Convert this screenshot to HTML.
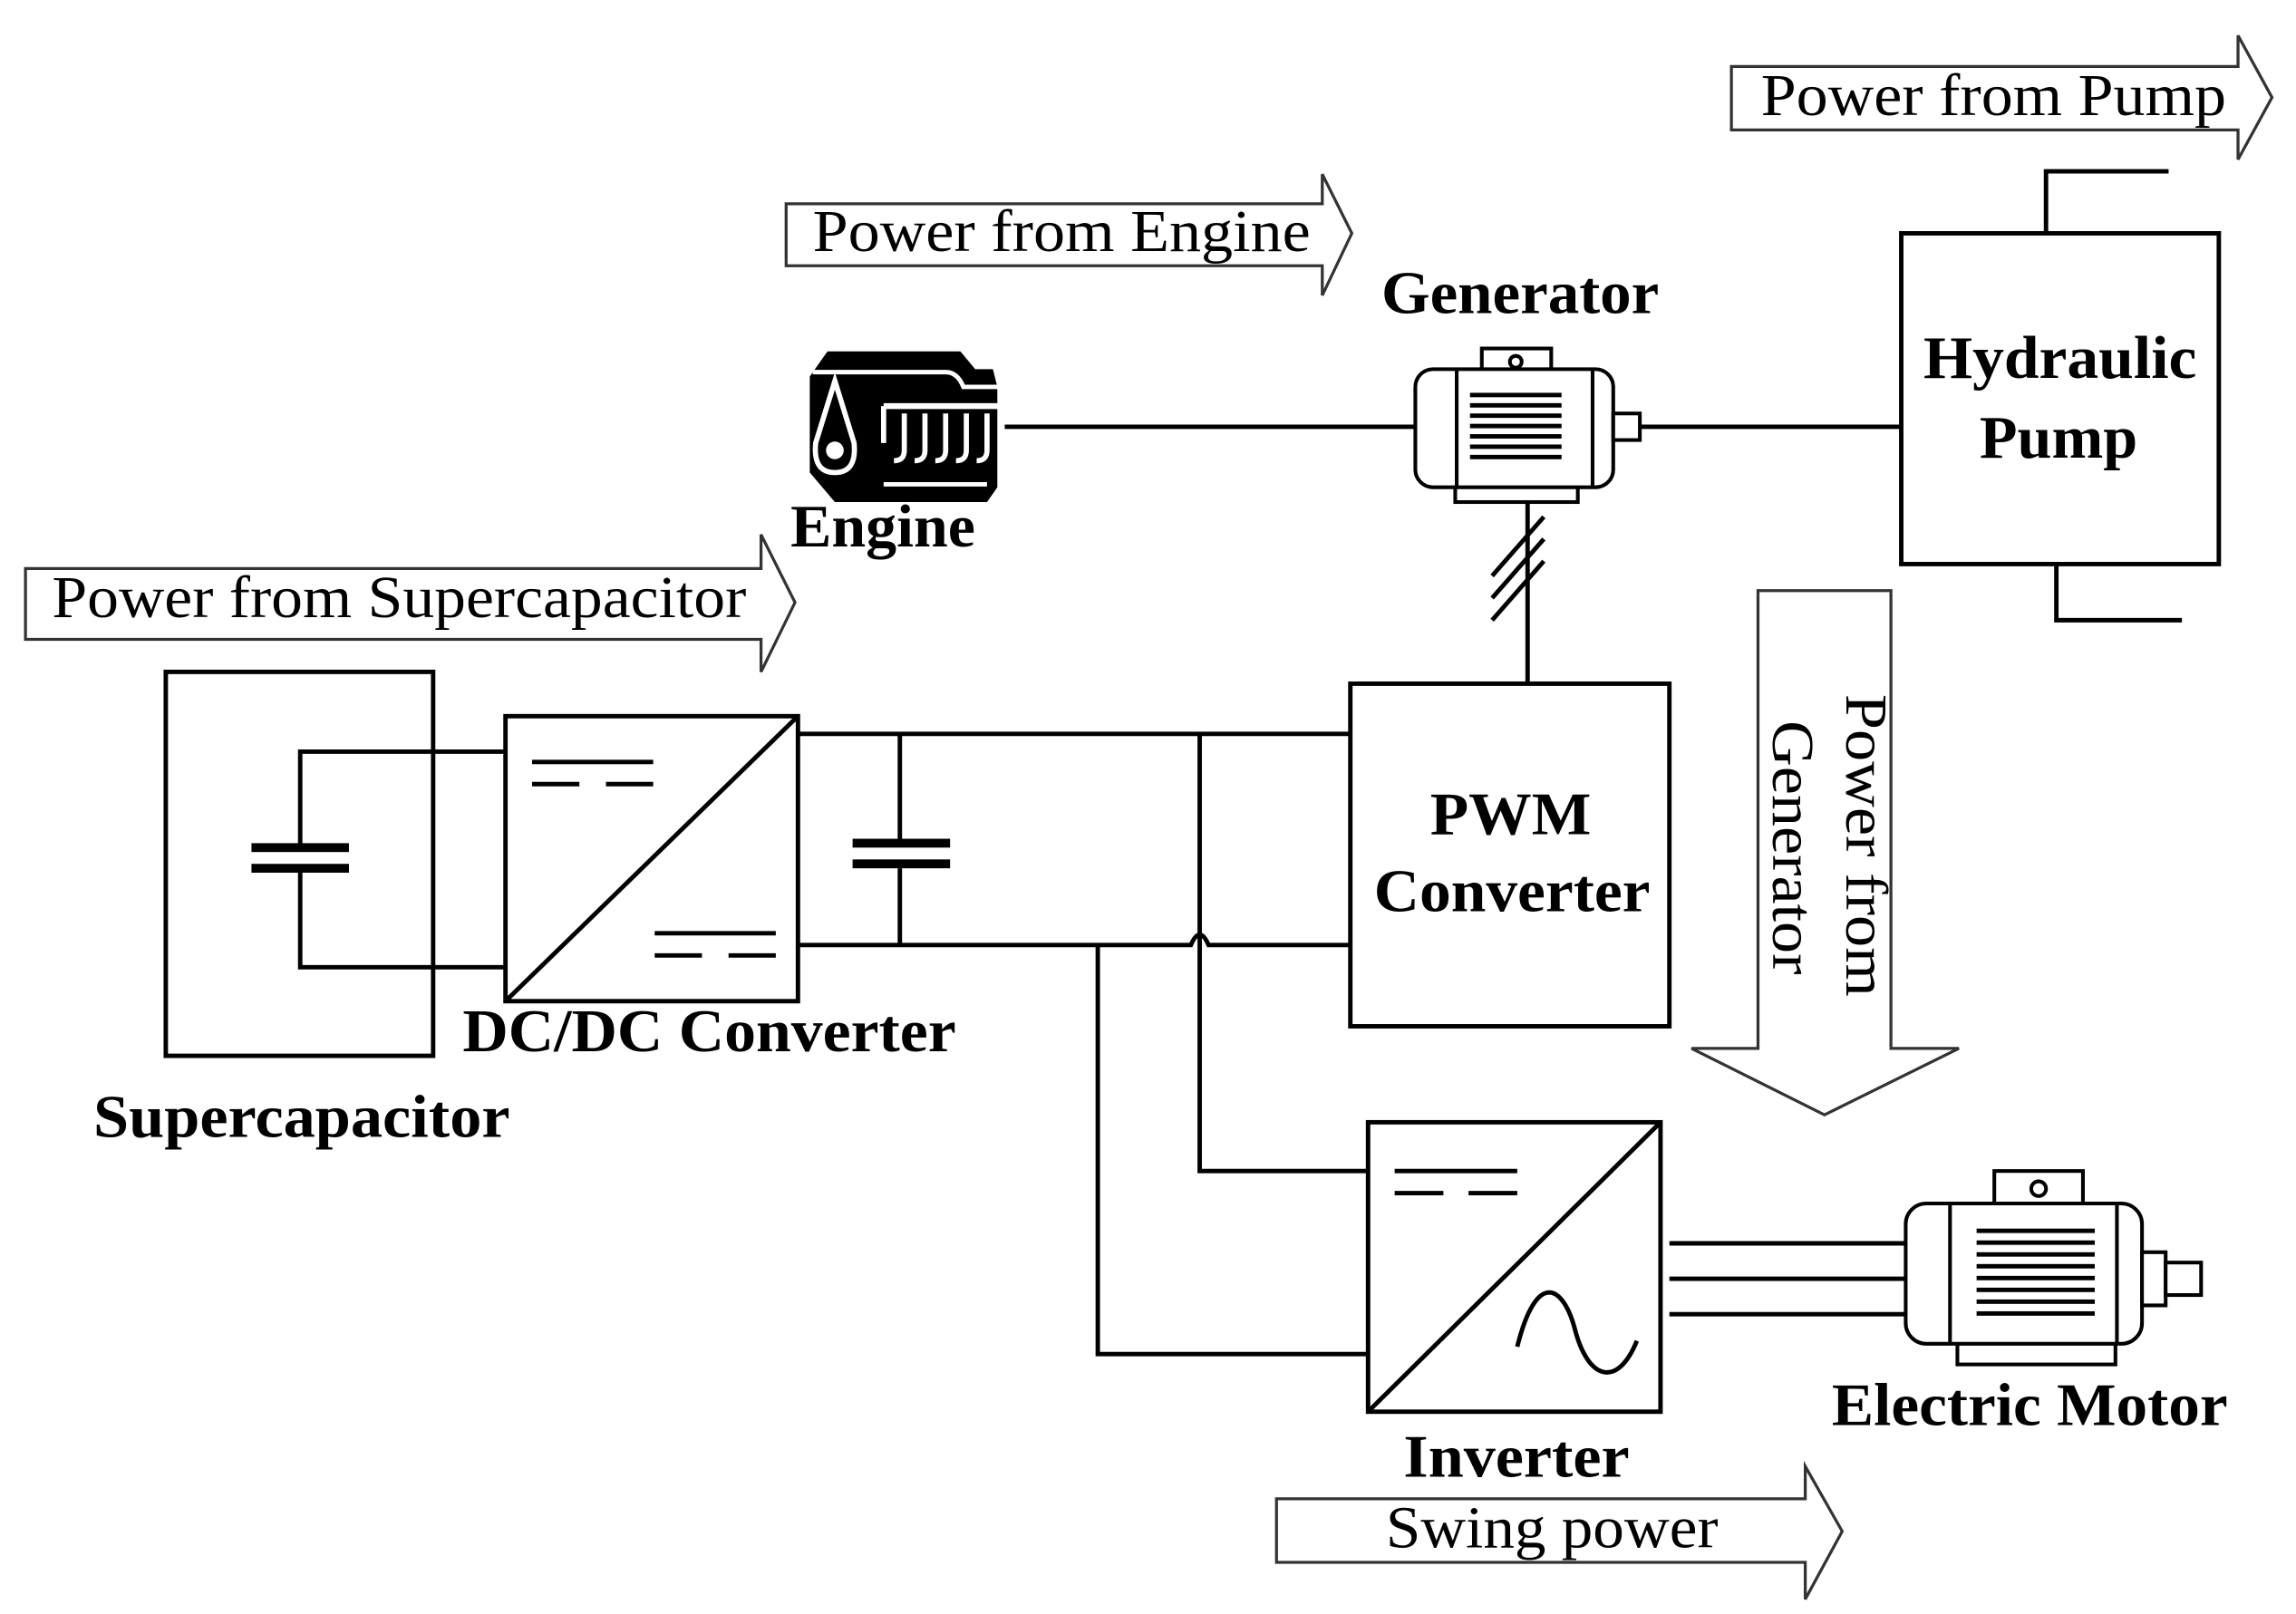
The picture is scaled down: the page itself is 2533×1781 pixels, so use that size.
<!DOCTYPE html>
<html><head><meta charset="utf-8"><style>
html,body{margin:0;padding:0;background:#fff;}
svg{display:block;}
text{font-family:"Liberation Serif",serif;fill:#000;}
.b{font-weight:bold;font-size:41px;}
.n{font-size:40px;}
</style></head><body>
<svg width="2533" height="1781" viewBox="0 0 1554 1093" xmlns="http://www.w3.org/2000/svg">
<g fill="#fff" stroke="#333" stroke-width="2">
<polygon points="1172,45 1515,45 1515,24 1538,66 1515,108 1515,88 1172,88"/>
<polygon points="532,138 895,138 895,118 915,158 895,200 895,180 532,180"/>
<polygon points="17,385 515,385 515,362 538,408 515,455 515,433 17,433"/>
<polygon points="864,1015 1222,1015 1222,993 1247,1037 1222,1083 1222,1058 864,1058"/>
<polygon points="1190,400 1280,400 1280,710 1326,710 1235,755 1145,710 1190,710"/>
</g>
<text class="n" x="1192" y="78" textLength="315" lengthAdjust="spacingAndGlyphs">Power from Pump</text>
<text class="n" x="550" y="170" textLength="337" lengthAdjust="spacingAndGlyphs">Power from Engine</text>
<text class="n" x="35" y="418" textLength="470" lengthAdjust="spacingAndGlyphs">Power from Supercapacitor</text>
<text class="n" x="938" y="1048" textLength="225" lengthAdjust="spacingAndGlyphs">Swing power</text>
<text class="n" transform="translate(1250,470) rotate(90)" textLength="205" lengthAdjust="spacingAndGlyphs">Power from</text>
<text class="n" transform="translate(1200,488) rotate(90)" textLength="172" lengthAdjust="spacingAndGlyphs">Generator</text>

<g stroke="#000" stroke-width="3" fill="none">
<line x1="680" y1="289" x2="958" y2="289"/>
<line x1="1110" y1="289" x2="1287" y2="289"/>
<rect x="1287" y="158" width="215" height="224"/>
<polyline points="1385,158 1385,116 1468,116"/>
<polyline points="1392,382 1392,420 1477,420"/>
<line x1="1034" y1="340" x2="1034" y2="463"/>
<line x1="1010" y1="390" x2="1045" y2="350"/>
<line x1="1010" y1="405" x2="1045" y2="365"/>
<line x1="1010" y1="420" x2="1045" y2="380"/>
<rect x="914" y="463" width="216" height="232"/>
<rect x="112" y="455" width="181" height="260"/>
<polyline points="342,509 203,509 203,572"/>
<polyline points="203,590 203,655 342,655"/>
<rect x="342" y="485" width="198" height="193"/>
<line x1="342" y1="678" x2="540" y2="485"/>
<line x1="360" y1="516" x2="442" y2="516"/>
<line x1="360" y1="531" x2="392" y2="531"/><line x1="410" y1="531" x2="442" y2="531"/>
<line x1="443" y1="632" x2="525" y2="632"/>
<line x1="443" y1="647" x2="475" y2="647"/><line x1="493" y1="647" x2="525" y2="647"/>
<line x1="540" y1="497" x2="914" y2="497"/>
<path d="M540,640 H806 Q812,626 818,640 H914"/>
<polyline points="609,497 609,570"/>
<polyline points="609,588 609,640"/>
<polyline points="812,497 812,793 926,793"/>
<polyline points="743,640 743,917 926,917"/>
<rect x="926" y="760" width="198" height="196"/>
<line x1="926" y1="956" x2="1124" y2="760"/>
<line x1="944" y1="793" x2="1027" y2="793"/>
<line x1="944" y1="808" x2="977" y2="808"/><line x1="994" y1="808" x2="1027" y2="808"/>
<path d="M1027,912 C1040,860 1058,870 1066,900 C1075,935 1095,940 1108,908"/>
<line x1="1130" y1="842" x2="1290" y2="842"/>
<line x1="1130" y1="866" x2="1290" y2="866"/>
<line x1="1130" y1="890" x2="1290" y2="890"/>
</g>
<g fill="#000">
<rect x="170" y="571" width="66" height="6"/><rect x="170" y="585" width="66" height="6"/>
<rect x="577" y="568" width="66" height="6"/><rect x="577" y="582" width="66" height="6"/>
</g>
<g stroke="#000" stroke-width="2.5" fill="#fff">
<rect x="1003" y="236" width="47" height="20"/>
<rect x="985" y="326" width="83" height="14"/>
<rect x="958" y="250" width="134" height="80" rx="12"/>
<line x1="986" y1="250" x2="986" y2="330"/><line x1="1078" y1="250" x2="1078" y2="330"/>
<rect x="1092" y="280" width="18" height="18"/>
<circle cx="1026" cy="245" r="4"/>
</g>
<g fill="#000">
<rect x="995" y="266" width="62" height="3"/><rect x="995" y="273" width="62" height="3"/><rect x="995" y="280" width="62" height="3"/><rect x="995" y="287" width="62" height="3"/><rect x="995" y="294" width="62" height="3"/><rect x="995" y="301" width="62" height="3"/><rect x="995" y="308" width="62" height="3"/>
</g>
<g stroke="#000" stroke-width="2.5" fill="#fff">
<rect x="1350" y="793" width="60" height="26"/>
<rect x="1325" y="906" width="107" height="18"/>
<rect x="1290" y="815" width="160" height="95" rx="14"/>
<line x1="1320" y1="815" x2="1320" y2="910"/><line x1="1433" y1="815" x2="1433" y2="910"/>
<rect x="1450" y="848" width="16" height="36"/>
<rect x="1466" y="855" width="24" height="22"/>
<circle cx="1380" cy="805" r="5"/>
</g>
<g fill="#000">
<rect x="1338" y="832" width="80" height="3"/><rect x="1338" y="840" width="80" height="3"/><rect x="1338" y="848" width="80" height="3"/><rect x="1338" y="856" width="80" height="3"/><rect x="1338" y="864" width="80" height="3"/><rect x="1338" y="872" width="80" height="3"/><rect x="1338" y="880" width="80" height="3"/><rect x="1338" y="888" width="80" height="3"/>
</g>
<g>
<path d="M560,238 H650 L660,250 H672 L675,262 V330 L668,340 H565 L548,320 V255 Z" fill="#000"/>
<path d="M550,252 H640 Q648,252 652,262 H676" stroke="#fff" stroke-width="3" fill="none"/>
<line x1="598" y1="275" x2="678" y2="275" stroke="#fff" stroke-width="4"/>
<path d="M598,275 V300 M612,280 V305 Q612,312 605,312 M626,280 V305 Q626,312 619,312 M640,280 V305 Q640,312 633,312 M654,280 V305 Q654,312 647,312 M668,280 V305 Q668,312 661,312" stroke="#fff" stroke-width="3.5" fill="none"/>
<path d="M565,258 L578,300 Q580,320 565,320 Q550,320 552,300 Z" stroke="#fff" stroke-width="3.5" fill="none"/>
<circle cx="565" cy="305" r="6" fill="#fff"/>
<line x1="598" y1="328" x2="668" y2="328" stroke="#fff" stroke-width="3"/>
</g>
<text class="b" x="535" y="370" textLength="125" lengthAdjust="spacingAndGlyphs">Engine</text>
<text class="b" x="935" y="212" textLength="188" lengthAdjust="spacingAndGlyphs">Generator</text>
<text class="b" x="1302" y="256" textLength="185" lengthAdjust="spacingAndGlyphs">Hydraulic</text>
<text class="b" x="1340" y="310" textLength="107" lengthAdjust="spacingAndGlyphs">Pump</text>
<text class="b" x="968" y="565" textLength="109" lengthAdjust="spacingAndGlyphs">PWM</text>
<text class="b" x="930" y="617" textLength="187" lengthAdjust="spacingAndGlyphs">Converter</text>
<text class="b" x="313" y="712" textLength="334" lengthAdjust="spacingAndGlyphs">DC/DC Converter</text>
<text class="b" x="63" y="770" textLength="282" lengthAdjust="spacingAndGlyphs">Supercapacitor</text>
<text class="b" x="950" y="1000" textLength="153" lengthAdjust="spacingAndGlyphs">Inverter</text>
<text class="b" x="1240" y="965" textLength="268" lengthAdjust="spacingAndGlyphs">Electric Motor</text>
</svg>
</body></html>
